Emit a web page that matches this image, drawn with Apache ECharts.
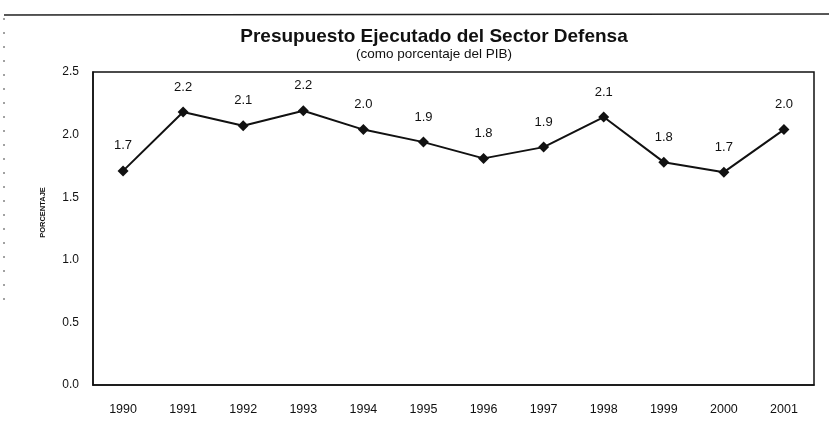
<!DOCTYPE html>
<html>
<head>
<meta charset="utf-8">
<script src="https://cdn.jsdelivr.net/npm/echarts@6/dist/echarts.min.js"></script>
<style>
  html, body { margin: 0; padding: 0; background: #fff; }
  #chart { width: 829px; height: 424px; }
</style>
</head>
<body>
<div id="chart"></div>
<script>
// Defence sector executed budget, as % of GDP
const years = ['1990', '1991', '1992', '1993', '1994', '1995', '1996', '1997', '1998', '1999', '2000', '2001'];
const pctGDP = [1.71, 2.18, 2.07, 2.19, 2.04, 1.94, 1.81, 1.90, 2.14, 1.78, 1.70, 2.04];
const yTicks = [0, 0.5, 1.0, 1.5, 2.0, 2.5];

const titleText = 'Presupuesto Ejecutado del Sector Defensa';
const subtitleText = '(como porcentaje del PIB)';
const yAxisName = 'PORCENTAJE';

const font = '"Liberation Sans", Arial, sans-serif';
const chart = echarts.init(document.getElementById('chart'), null, { renderer: 'canvas' });

chart.setOption({
  backgroundColor: '#ffffff',
  animation: false,
  title: {
    text: titleText,
    subtext: subtitleText,
    left: 429,
    textAlign: 'center',
    top: 22,
    itemGap: 1,
    textStyle: { fontFamily: font, fontSize: 19, fontWeight: 'bold', color: '#111' },
    subtextStyle: { fontFamily: font, fontSize: 13.5, color: '#111' }
  },
  grid: {
    left: 93, right: 15, top: 72, bottom: 39,
    show: true, borderColor: '#111', borderWidth: 1.5, backgroundColor: 'transparent'
  },
  xAxis: {
    type: 'category',
    data: years,
    boundaryGap: true,
    axisLine: { show: true, lineStyle: { color: '#111', width: 1.5 } },
    axisTick: { show: false },
    axisLabel: { fontFamily: font, fontSize: 12.5, color: '#111', margin: 18 }
  },
  yAxis: {
    type: 'value',
    min: yTicks[0],
    max: yTicks[yTicks.length - 1],
    interval: 0.5,
    name: yAxisName,
    nameLocation: 'middle',
    nameRotate: 90,
    nameGap: 46,
    nameTextStyle: {
      fontFamily: font, fontSize: 7.5, fontWeight: 'bold', color: '#111',
      padding: [0, 0, 0, 32]
    },
    axisLine: { show: true, lineStyle: { color: '#111', width: 1.5 } },
    axisTick: { show: false },
    splitLine: { show: false },
    axisLabel: {
      fontFamily: font, fontSize: 12, color: '#111', margin: 14,
      formatter: v => v.toFixed(1)
    }
  },
  series: [{
    type: 'line',
    data: pctGDP,
    symbol: 'diamond',
    symbolSize: 11,
    lineStyle: { color: '#111', width: 2 },
    itemStyle: { color: '#111' },
    label: {
      show: true,
      position: 'top',
      distance: 13,
      fontFamily: font,
      fontSize: 13,
      color: '#111',
      formatter: p => p.value.toFixed(1)
    }
  }],
  graphic: [
    {
      type: 'line',
      shape: { x1: 4, y1: 15, x2: 829, y2: 14 },
      style: { stroke: '#222', lineWidth: 1.5 }
    },
    {
      type: 'line',
      shape: { x1: 4, y1: 18, x2: 4, y2: 300 },
      style: { stroke: '#444', lineWidth: 1, lineDash: [2, 12] }
    }
  ]
});
</script>
</body>
</html>
